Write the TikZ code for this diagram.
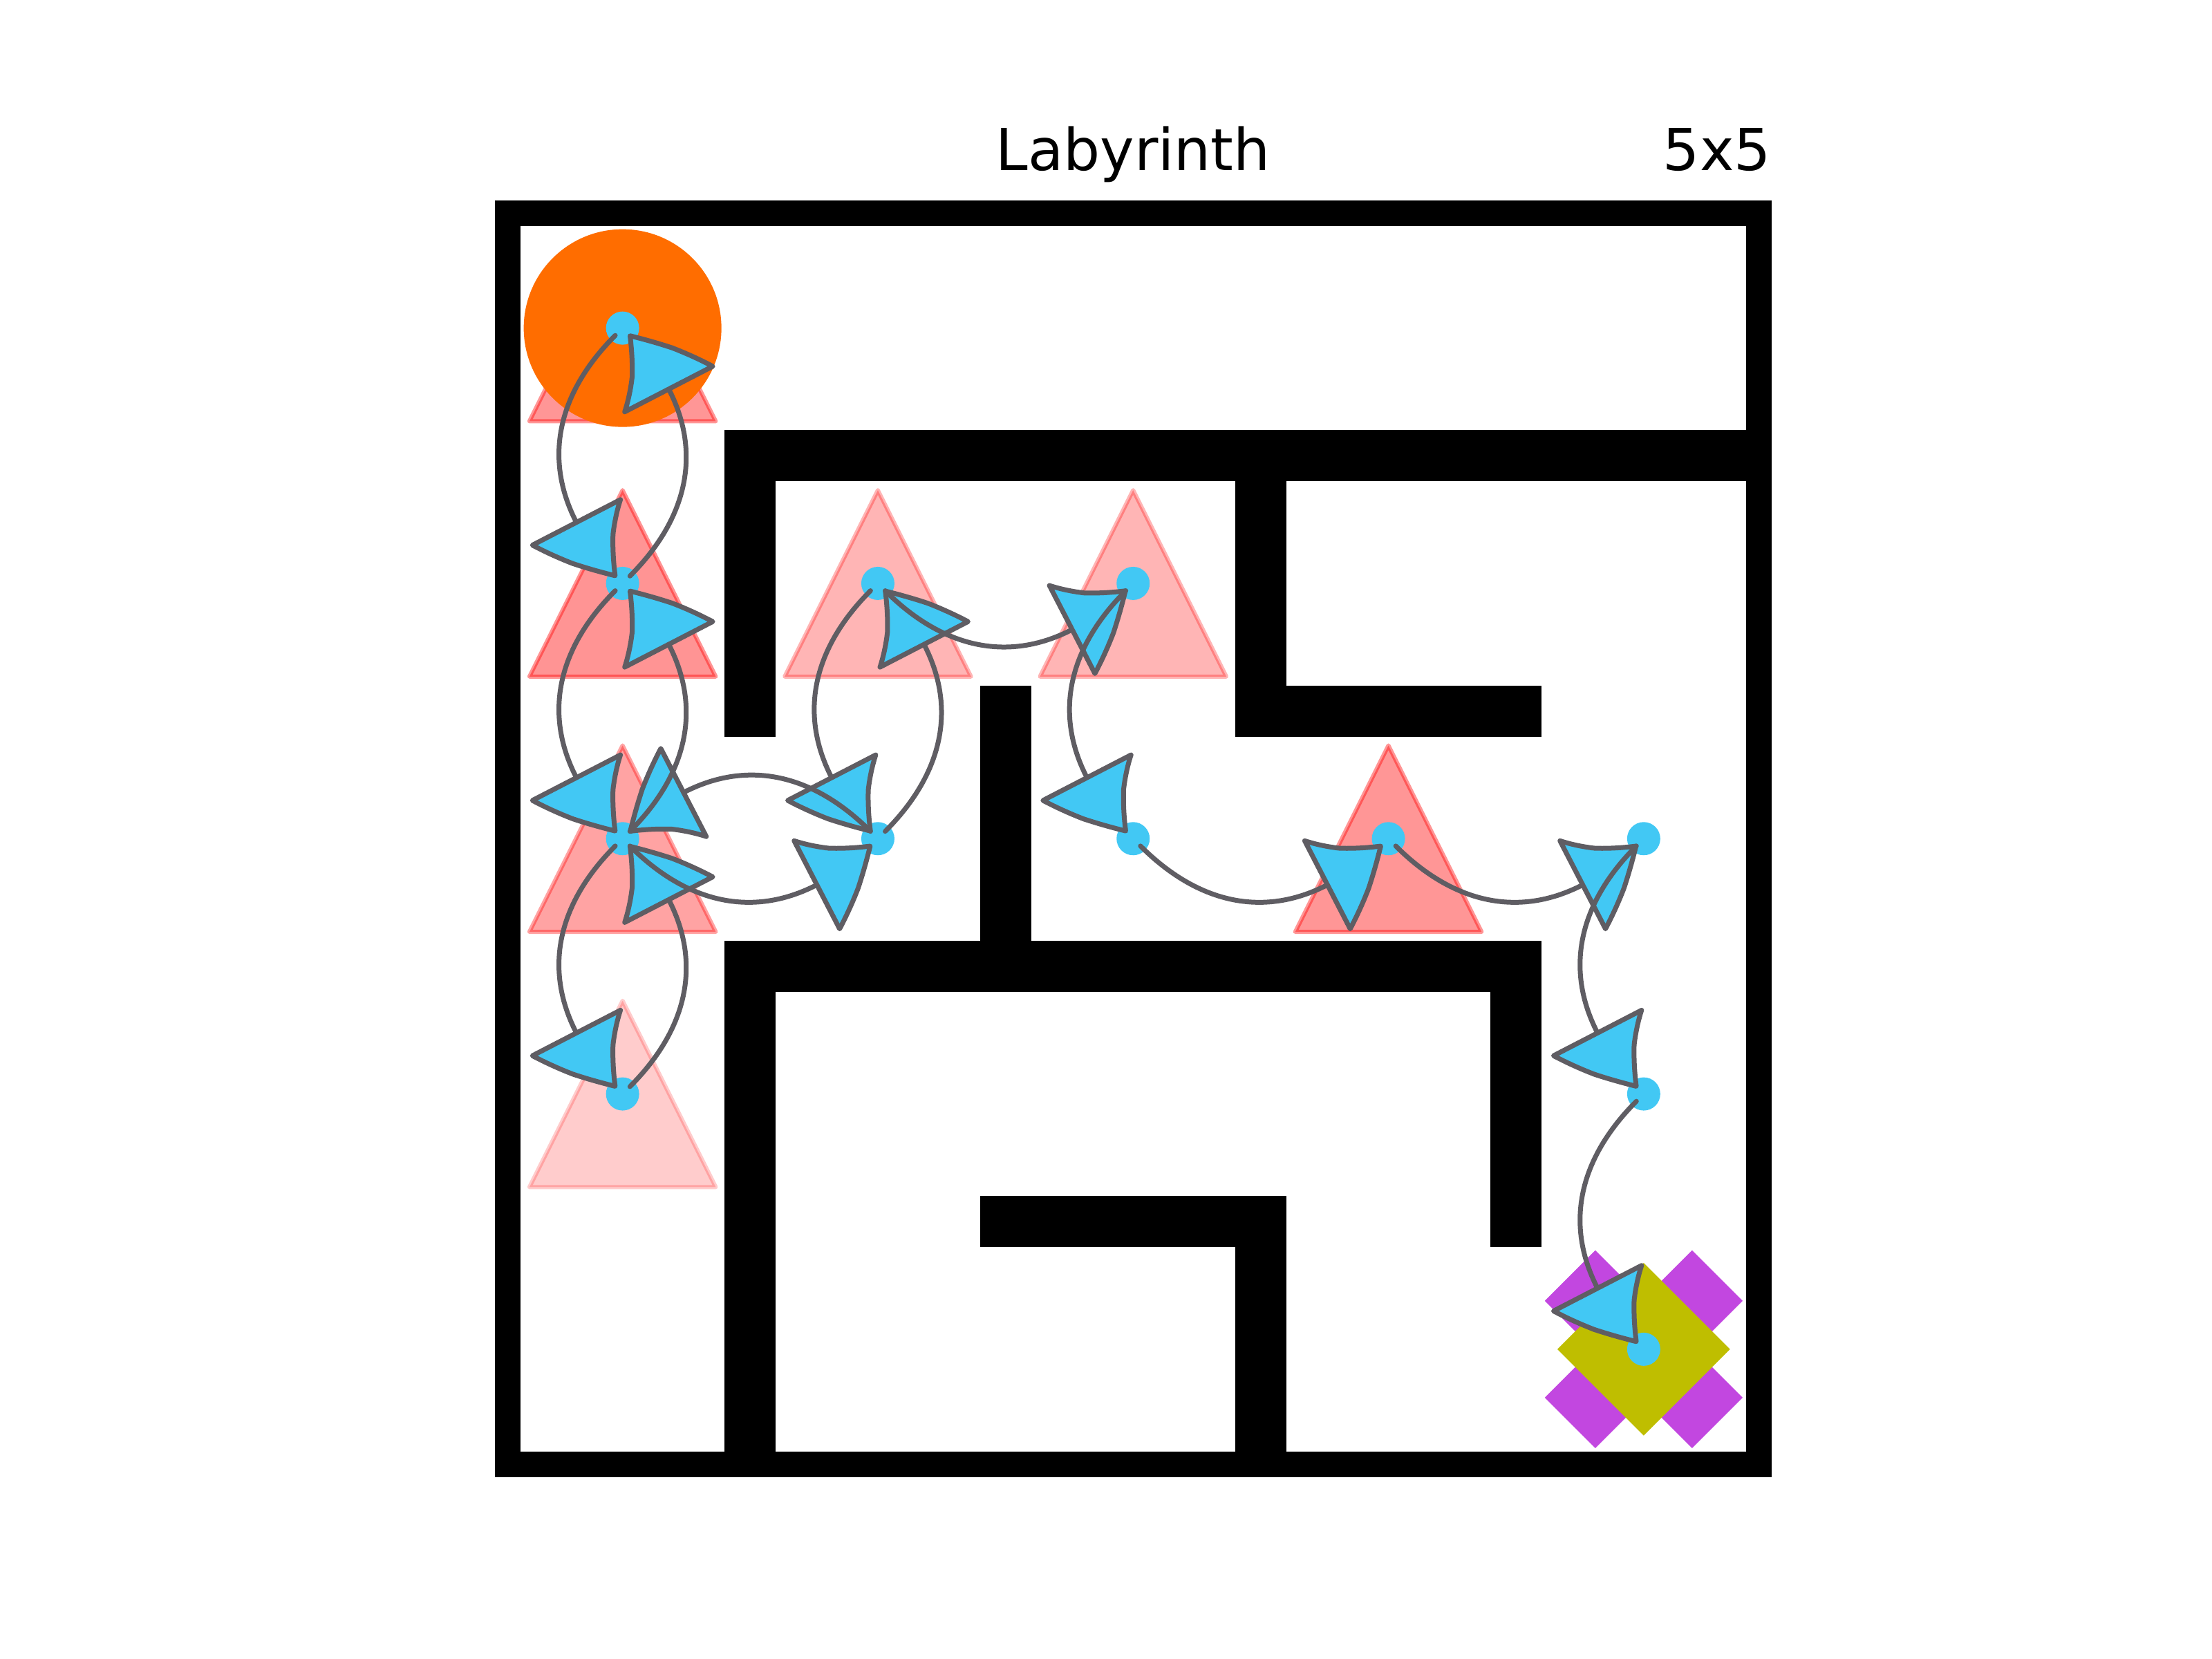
\documentclass[tikz,border=0pt]{standalone}
\usepackage{fontspec}
\setmainfont{DejaVu Sans}
\usetikzlibrary{arrows.meta,bending}

\definecolor{celeste}{RGB}{66,200,244}
\definecolor{grigio}{RGB}{95,93,99}
\definecolor{arancio}{RGB}{255,109,0}
\definecolor{viola}{RGB}{194,71,224}
\definecolor{oliva}{RGB}{191,190,0}

\tikzset{
  muro/.style={line width=0.7386cm, line cap=rect},
  trappola/.style={fill=red, draw=red, line width=0.06cm, line join=round},
  punto/.style={circle, fill=celeste, inner sep=0pt, minimum size=0.48cm},
  freccia/.style={grigio, line width=0.07cm, line cap=round,
    -{Triangle[length=1.15cm, width=1.55cm, fill=celeste, round, bend]},
    shorten <=0.15cm, shorten >=0.12cm},
  titolo/.style={inner sep=0pt, font=\fontsize{23.8}{28}\selectfont}
}

\begin{document}
\begin{tikzpicture}[x=3.693cm, y=-3.693cm]
  \useasboundingbox (-1.9388,-0.7853) rectangle (6.7262,5.7135);

  % titolo
  \node[titolo, anchor=base] (tit) at (2.5,-0.119) {Labyrinth};
  \node[titolo, anchor=base east] (dim) at (5,-0.119) {5x5};

  % cornice esterna
  \draw[line width=0.3693cm] (0.05,0.05) rectangle (4.95,4.95);

  % muri interni
  \draw[muro] (1,1) -- (4.9,1);
  \draw[muro] (1,1) -- (1,2);
  \draw[muro] (3,1) -- (3,2) -- (4,2);
  \draw[muro] (2,2) -- (2,3);
  \draw[muro] (1,3) -- (4,3);
  \draw[muro] (1,3) -- (1,4.9);
  \draw[muro] (4,3) -- (4,4);
  \draw[muro] (2,4) -- (3,4) -- (3,4.9);

  % trappole
  \foreach \c/\r/\o in {0/0/0.41, 0/1/0.42, 0/2/0.36, 0/3/0.2, 1/1/0.29, 2/1/0.29, 3/2/0.41}
    \filldraw[trappola, opacity=\o, shift={(\c+0.5,\r+0.5)}]
      (0,-0.365) -- (-0.365,0.365) -- (0.365,0.365) -- cycle;

  % agente
  \fill[arancio] (0.5,0.5) circle[radius=1.43cm];

  % obiettivo
  \fill[viola, shift={(4.5,4.5)}, rotate=45] (-0.408,-0.14) rectangle (0.408,0.14);
  \fill[viola, shift={(4.5,4.5)}, rotate=-45] (-0.408,-0.14) rectangle (0.408,0.14);
  \fill[oliva, shift={(4.5,4.5)}] (0,-0.338) -- (0.338,0) -- (0,0.338) -- (-0.338,0) -- cycle;

  % punti del percorso
  \foreach \c/\r in {0/0,0/1,0/2,0/3,1/1,1/2,2/1,2/2,3/2,4/2,4/3,4/4}
    \node[punto] (p\c\r) at (\c+0.5,\r+0.5) {};

  % percorso
  \foreach \a/\b in {00/01, 01/00, 01/02, 02/03, 03/02, 02/12, 12/11, 11/12,
                     12/02, 02/01, 11/21, 21/22, 22/32, 32/42, 42/43, 43/44}
    \draw[freccia] (p\a.center) to[bend right=45, looseness=1.2] (p\b.center);
\end{tikzpicture}
\end{document}
